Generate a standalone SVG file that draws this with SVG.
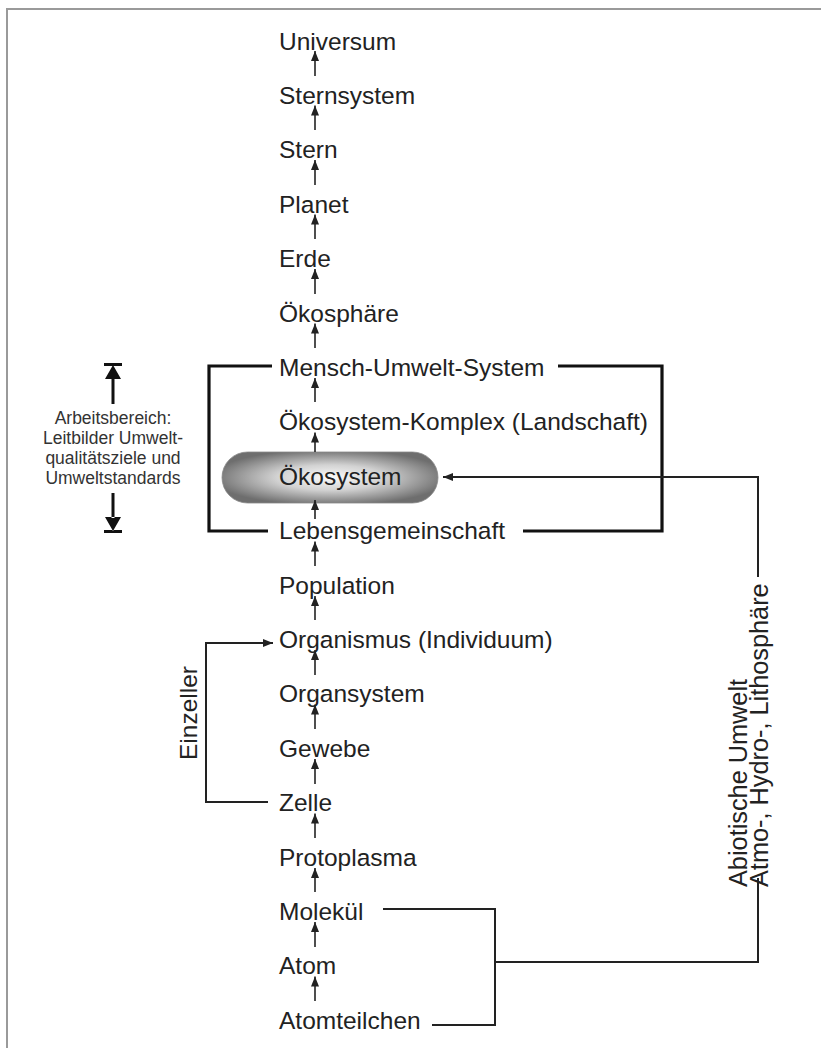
<svg xmlns="http://www.w3.org/2000/svg" width="821" height="1048" viewBox="0 0 821 1048">
<style>
.t{font-family:"Liberation Sans",Arial,sans-serif;font-size:24.5px;fill:#222}
.v{font-family:"Liberation Sans",Arial,sans-serif;font-size:25.3px;fill:#222}
.s{font-family:"Liberation Sans",Arial,sans-serif;font-size:17.5px;fill:#333}
.a{stroke:#222;stroke-width:1.6;fill:none}
.c{stroke:#222;stroke-width:2;fill:none}
.b{stroke:#111;stroke-width:3.2;fill:none}
</style>
<defs>
<marker id="ah" viewBox="0 0 10 8" refX="10" refY="4" markerWidth="10" markerHeight="8" markerUnits="userSpaceOnUse" orient="auto">
<path d="M0,0 L10,4 L0,8 z" fill="#222"/>
</marker>
<radialGradient id="pg" cx="50%" cy="50%" r="55%">
<stop offset="0" stop-color="#fbfbfb"/>
<stop offset="0.45" stop-color="#d2d2d2"/>
<stop offset="1" stop-color="#6e6e6e"/>
</radialGradient>
</defs>
<g id="frame"><path d="M6,9 H821 M7,9 V1048" stroke="#9a9a9a" stroke-width="2" fill="none"/></g>
<g id="oekosystem-pill"><rect x="222" y="452" width="216" height="51" rx="25.5" fill="url(#pg)" stroke="#888" stroke-width="0.8"/></g>
<g id="n0"><text class="t" x="279" y="49.5">Universum</text></g>
<g id="n1"><text class="t" x="279" y="103.9">Sternsystem</text></g>
<g id="n2"><text class="t" x="279" y="158.3">Stern</text></g>
<g id="n3"><text class="t" x="279" y="212.7">Planet</text></g>
<g id="n4"><text class="t" x="279" y="267.1">Erde</text></g>
<g id="n5"><text class="t" x="279" y="321.5">Ökosphäre</text></g>
<g id="n6"><text class="t" x="279" y="375.9">Mensch-Umwelt-System</text></g>
<g id="n7"><text class="t" x="279" y="430.3">Ökosystem-Komplex (Landschaft)</text></g>
<g id="n8"><text class="t" x="279" y="484.7">Ökosystem</text></g>
<g id="n9"><text class="t" x="279" y="539.1">Lebensgemeinschaft</text></g>
<g id="n10"><text class="t" x="279" y="593.5">Population</text></g>
<g id="n11"><text class="t" x="279" y="647.9">Organismus (Individuum)</text></g>
<g id="n12"><text class="t" x="279" y="702.3">Organsystem</text></g>
<g id="n13"><text class="t" x="279" y="756.7">Gewebe</text></g>
<g id="n14"><text class="t" x="279" y="811.1">Zelle</text></g>
<g id="n15"><text class="t" x="279" y="865.5">Protoplasma</text></g>
<g id="n16"><text class="t" x="279" y="919.9">Molekül</text></g>
<g id="n17"><text class="t" x="279" y="974.3">Atom</text></g>
<g id="n18"><text class="t" x="279" y="1028.7">Atomteilchen</text></g>
<g id="arbeitsbereich">
<text class="s" text-anchor="middle" x="113" y="424">Arbeitsbereich:</text>
<text class="s" text-anchor="middle" x="113" y="444">Leitbilder Umwelt-</text>
<text class="s" text-anchor="middle" x="113" y="464">qualitätsziele und</text>
<text class="s" text-anchor="middle" x="113" y="484">Umweltstandards</text>
<path d="M104,363 H122 V366 H104 Z M113,365 L121,379 L105,379 Z M111.5,378 H114.5 V404 H111.5 Z" fill="#111"/>
<path d="M104,530 H122 V533 H104 Z M113,531 L121,517 L105,517 Z M111.5,493 H114.5 V518 H111.5 Z" fill="#111"/>
</g>
<g id="einzeller-label"><text class="t" text-anchor="middle" transform="translate(197,713) rotate(-90)" x="0" y="0">Einzeller</text></g>
<g id="abiotisch-label">
<text class="v" transform="translate(747,887) rotate(-90)" x="0" y="0">Abiotische Umwelt</text>
<text class="v" transform="translate(768,887) rotate(-90)" x="0" y="0">Atmo-, Hydro-, Lithosphäre</text>
</g>
<g id="connectors">
<path class="a" marker-end="url(#ah)" d="M315,76 V51"/>
<path class="a" marker-end="url(#ah)" d="M315,130 V105.5"/>
<path class="a" marker-end="url(#ah)" d="M315,185 V160"/>
<path class="a" marker-end="url(#ah)" d="M315,239 V214.5"/>
<path class="a" marker-end="url(#ah)" d="M315,294 V269"/>
<path class="a" marker-end="url(#ah)" d="M315,348 V323.5"/>
<path class="a" marker-end="url(#ah)" d="M315,402 V378"/>
<path class="a" marker-end="url(#ah)" d="M315,452 V432.5"/>
<path class="a" marker-end="url(#ah)" d="M315,519 V500"/>
<path class="a" marker-end="url(#ah)" d="M315,566 V541.5"/>
<path class="a" marker-end="url(#ah)" d="M315,620 V596"/>
<path class="a" marker-end="url(#ah)" d="M315,675 V650"/>
<path class="a" marker-end="url(#ah)" d="M315,729 V704.5"/>
<path class="a" marker-end="url(#ah)" d="M315,784 V759"/>
<path class="a" marker-end="url(#ah)" d="M315,838 V813.5"/>
<path class="a" marker-end="url(#ah)" d="M315,892 V868"/>
<path class="a" marker-end="url(#ah)" d="M315,947 V922"/>
<path class="a" marker-end="url(#ah)" d="M315,1001 V976.5"/>
<path class="b" d="M272,366 H209 V531 H268"/>
<path class="b" d="M558,366 H662 V531 H523"/>
<path class="c" marker-end="url(#ah)" d="M268,802 H206 V643 H273"/>
<path class="c" marker-end="url(#ah)" d="M758,577 V477 H443"/>
<path class="c" d="M758,878 V962 H495"/>
<path class="c" d="M383,909 H495 V1025 H432"/>
</g>
</svg>
